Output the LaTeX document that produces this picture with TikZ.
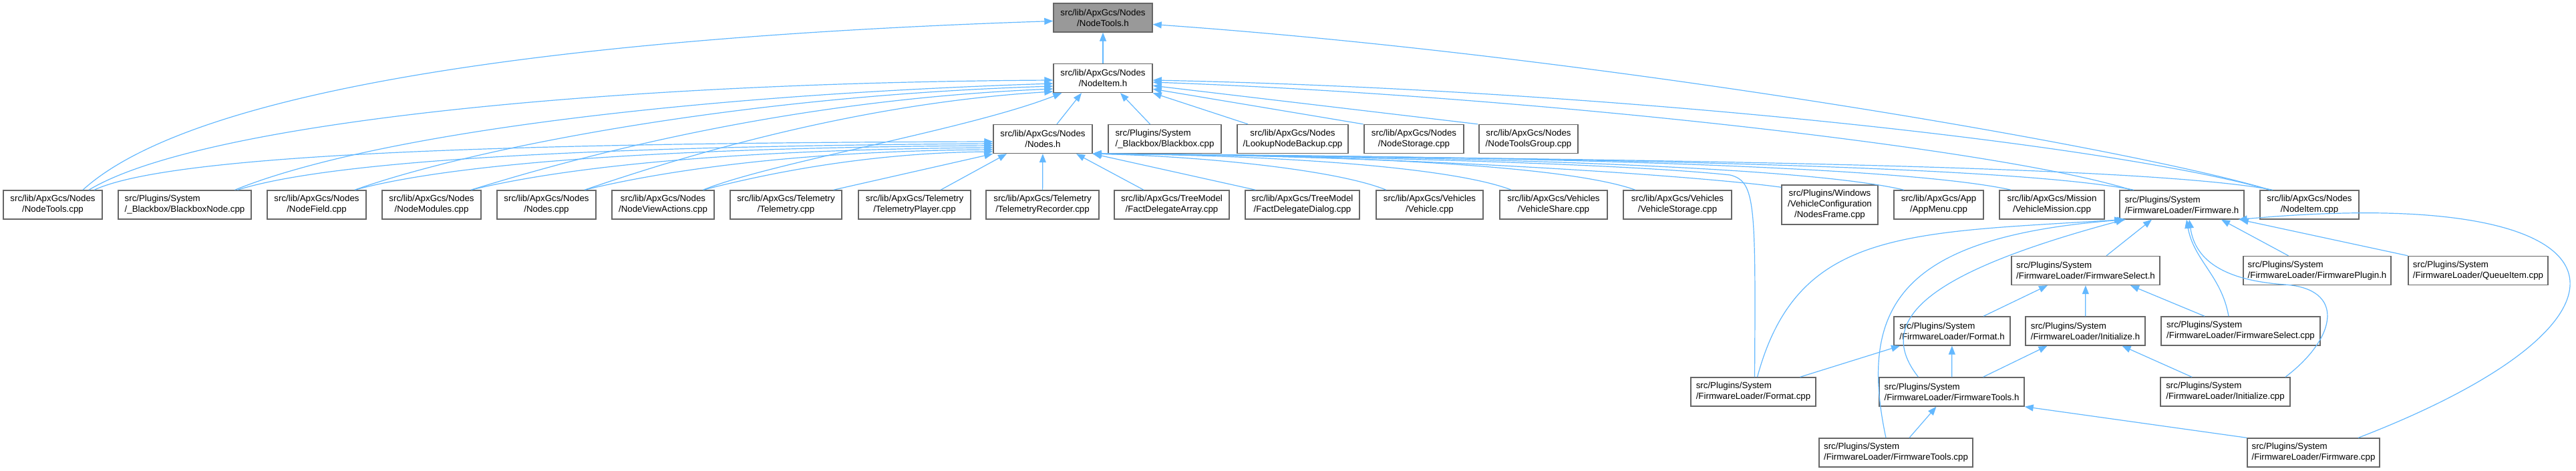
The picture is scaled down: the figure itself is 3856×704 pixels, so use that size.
\documentclass[tikz,border=0pt]{standalone}
\usepackage{fontspec}
\setmainfont{Liberation Sans}
\usetikzlibrary{arrows.meta}

\definecolor{edgeblue}{HTML}{63B8FF}
\definecolor{boxline}{HTML}{666666}
\definecolor{hilite}{HTML}{999999}

\tikzset{
  file/.style={draw=boxline, line width=1.4pt, fill=white, rectangle,
    minimum height=43pt, inner xsep=3pt, inner ysep=0pt, align=center,
    font=\fontsize{13.3}{16}\selectfont},
  lfile/.style={file, align=left},
  current/.style={file, fill=hilite},
  dep/.style={->, draw=edgeblue, line width=1.2pt}
}

\begin{document}
\begin{tikzpicture}[x=1pt, y=1pt, >={Triangle[length=13pt,width=10pt]}]
    \useasboundingbox (0,0) rectangle (3856,704);

    % Header and the one that includes it
    \node[current, minimum width=148pt] (nth) at (1651,677.5) {src/lib/ApxGcs/Nodes\\/NodeTools.h};
    \node[file, minimum width=148pt] (ni) at (1651,587) {src/lib/ApxGcs/Nodes\\/NodeItem.h};

    % Second level
    \node[file, minimum width=148pt] (nh) at (1561,496) {src/lib/ApxGcs/Nodes\\/Nodes.h};
    \node[lfile, minimum width=169pt] (bbcpp) at (1743.5,496) {src/Plugins/System\\/\_Blackbox/Blackbox.cpp};
    \node[file, minimum width=166pt] (lnb) at (1935,496) {src/lib/ApxGcs/Nodes\\/LookupNodeBackup.cpp};
    \node[file, minimum width=149pt] (nstor) at (2116.5,496) {src/lib/ApxGcs/Nodes\\/NodeStorage.cpp};
    \node[file, minimum width=148pt] (ntg) at (2288,496) {src/lib/ApxGcs/Nodes\\/NodeToolsGroup.cpp};

    % Sources that use the nodes
    \node[file, minimum width=148pt] (ntcpp) at (79,397.5) {src/lib/ApxGcs/Nodes\\/NodeTools.cpp};
    \node[lfile, minimum width=199pt] (bbn) at (276.5,397.5) {src/Plugins/System\\/\_Blackbox/BlackboxNode.cpp};
    \node[file, minimum width=148pt] (nf) at (474,397.5) {src/lib/ApxGcs/Nodes\\/NodeField.cpp};
    \node[file, minimum width=148pt] (nm) at (646,397.5) {src/lib/ApxGcs/Nodes\\/NodeModules.cpp};
    \node[file, minimum width=148pt] (nscpp) at (818,397.5) {src/lib/ApxGcs/Nodes\\/Nodes.cpp};
    \node[file, minimum width=153pt] (nva) at (992.5,397.5) {src/lib/ApxGcs/Nodes\\/NodeViewActions.cpp};
    \node[file, minimum width=167pt] (tel) at (1176.5,397.5) {src/lib/ApxGcs/Telemetry\\/Telemetry.cpp};
    \node[file, minimum width=168pt] (tp) at (1369,397.5) {src/lib/ApxGcs/Telemetry\\/TelemetryPlayer.cpp};
    \node[file, minimum width=169pt] (tr) at (1560.5,397.5) {src/lib/ApxGcs/Telemetry\\/TelemetryRecorder.cpp};
    \node[file, minimum width=172pt] (fda) at (1754,397.5) {src/lib/ApxGcs/TreeModel\\/FactDelegateArray.cpp};
    \node[file, minimum width=171pt] (fdd) at (1949.5,397.5) {src/lib/ApxGcs/TreeModel\\/FactDelegateDialog.cpp};
    \node[file, minimum width=160pt] (veh) at (2140,397.5) {src/lib/ApxGcs/Vehicles\\/Vehicle.cpp};
    \node[file, minimum width=161pt] (vs) at (2325.5,397.5) {src/lib/ApxGcs/Vehicles\\/VehicleShare.cpp};
    \node[file, minimum width=162pt] (vst) at (2511,397.5) {src/lib/ApxGcs/Vehicles\\/VehicleStorage.cpp};
    \node[file, minimum width=144pt, minimum height=59pt] (nfr) at (2739,397.5) {src/Plugins/Windows\\/VehicleConfiguration\\/NodesFrame.cpp};
    \node[file, minimum width=134pt] (am) at (2902,397.5) {src/lib/ApxGcs/App\\/AppMenu.cpp};
    \node[file, minimum width=157pt] (vm) at (3071.5,397.5) {src/lib/ApxGcs/Mission\\/VehicleMission.cpp};
    \node[lfile, minimum width=186pt] (fwh) at (3266,397.5) {src/Plugins/System\\/FirmwareLoader/Firmware.h};
    \node[file, minimum width=148pt] (nicpp) at (3457,397.5) {src/lib/ApxGcs/Nodes\\/NodeItem.cpp};

    % Firmware loader
    \node[lfile, minimum width=222pt] (fsh) at (3122,299) {src/Plugins/System\\/FirmwareLoader/FirmwareSelect.h};
    \node[lfile, minimum width=221pt] (fph) at (3468.5,299) {src/Plugins/System\\/FirmwareLoader/FirmwarePlugin.h};
    \node[lfile, minimum width=209pt] (qi) at (3709.5,299) {src/Plugins/System\\/FirmwareLoader/QueueItem.cpp};
    \node[lfile, minimum width=174pt] (fmh) at (2922,208.5) {src/Plugins/System\\/FirmwareLoader/Format.h};
    \node[lfile, minimum width=179pt] (inh) at (3121.5,208.5) {src/Plugins/System\\/FirmwareLoader/Initialize.h};
    \node[lfile, minimum width=238pt] (fscpp) at (3354,208.5) {src/Plugins/System\\/FirmwareLoader/FirmwareSelect.cpp};
    \node[lfile, minimum width=187pt] (fmcpp) at (2624.5,117.5) {src/Plugins/System\\/FirmwareLoader/Format.cpp};
    \node[lfile, minimum width=217pt] (fth) at (2921.5,117.5) {src/Plugins/System\\/FirmwareLoader/FirmwareTools.h};
    \node[lfile, minimum width=194pt] (incpp) at (3331,117.5) {src/Plugins/System\\/FirmwareLoader/Initialize.cpp};
    \node[lfile, minimum width=230pt] (ftcpp) at (2838,26.5) {src/Plugins/System\\/FirmwareLoader/FirmwareTools.cpp};
    \node[lfile, minimum width=198pt] (fwcpp) at (3463,26.5) {src/Plugins/System\\/FirmwareLoader/Firmware.cpp};

    % Into NodeTools.h
    \draw[dep] (ni) -- (nth);
    \draw[dep] ([xshift=45]ntcpp.north) .. controls (300,580) and (900,650) .. ([yshift=-5]nth.west);
    \draw[dep] ([xshift=-59]nicpp.north) .. controls (3200,480) and (2400,620) .. ([yshift=-10]nth.east);

    % Into NodeItem.h
    \draw[dep] ([xshift=21]nh.north) -- ([xshift=-32]ni.south);
    \draw[dep] ([xshift=-22]bbcpp.north) -- ([xshift=26]ni.south);
    \draw[dep] ([xshift=-67]lnb.north) -- (ni.south east);
    \draw[dep] ([xshift=-76]nstor.north) -- ([yshift=6]ni.south east);
    \draw[dep] ([xshift=-76]ntg.north) -- ([yshift=11]ni.south east);
    \draw[dep] ([xshift=54]ntcpp.north) .. controls (300,520) and (900,580) .. ([yshift=-3]ni.west);
    \draw[dep] ([xshift=75]bbn.north) .. controls (550,500) and (1000,560) .. ([yshift=-8]ni.west);
    \draw[dep] ([xshift=57]nf.north) .. controls (700,480) and (1100,560) .. ([yshift=-12]ni.west);
    \draw[dep] ([xshift=59]nm.north) .. controls (900,480) and (1200,555) .. ([yshift=-16]ni.west);
    \draw[dep] ([xshift=57]nscpp.north) .. controls (1050,480) and (1300,550) .. ([yshift=-20]ni.west);
    \draw[dep] ([xshift=60]nva.north) .. controls (1150,460) and (1450,510) .. ([xshift=13]ni.south west);
    \draw[dep] ([xshift=-76]fwh.north) .. controls (3000,480) and (2300,560) .. ([yshift=-6]ni.east);
    \draw[dep] ([xshift=-59]nicpp.north) .. controls (3150,490) and (2400,570) .. ([yshift=-3]ni.east);

    % Into Nodes.h from the left
    \draw[dep] ([xshift=62]ntcpp.north) .. controls (250,470) and (700,490) .. ([yshift=-4]nh.west);
    \draw[dep] ([xshift=79]bbn.north) .. controls (500,465) and (900,485) .. ([yshift=-7]nh.west);
    \draw[dep] ([xshift=57]nf.north) .. controls (680,460) and (1000,483) .. ([yshift=-10]nh.west);
    \draw[dep] ([xshift=59]nm.north) .. controls (850,455) and (1100,480) .. ([yshift=-13]nh.west);
    \draw[dep] ([xshift=57]nscpp.north) .. controls (1000,450) and (1200,478) .. ([yshift=-16]nh.west);
    \draw[dep] ([xshift=60]nva.north) .. controls (1150,445) and (1300,475) .. ([yshift=-19]nh.west);
    \draw[dep] ([xshift=71]tel.north) -- (nh.south west);
    \draw[dep] ([xshift=39]tp.north) -- ([xshift=-54]nh.south);
    \draw[dep] (tr) -- (nh);

    % Into Nodes.h from the right
    \draw[dep] ([xshift=-42]fda.north) -- ([xshift=50]nh.south);
    \draw[dep] ([xshift=-70]fdd.north) -- (nh.south east);
    \draw[dep] ([xshift=-65]veh.north) .. controls (2000,450) and (1800,470) .. (nh.south east);
    \draw[dep] ([xshift=-63]vs.north) .. controls (2170,455) and (1900,472) .. (nh.south east);
    \draw[dep] ([xshift=-63]vst.north) .. controls (2340,458) and (2000,472) .. (nh.south east);
    \draw[dep] ([yshift=-4]nfr.north west) .. controls (2550,440) and (2100,472) .. (nh.south east);
    \draw[dep] ([xshift=-52]am.north) .. controls (2700,455) and (2200,470) .. (nh.south east);
    \draw[dep] ([xshift=-61]vm.north) .. controls (2850,455) and (2300,470) .. (nh.south east);
    \draw[dep] ([xshift=-72]fwh.north) .. controls (3000,458) and (2300,468) .. (nh.south east);
    \draw[dep] ([xshift=-55]nicpp.north) .. controls (3200,458) and (2400,466) .. (nh.south east);
    \draw[dep] ([xshift=2]fmcpp.north) .. controls (2628,400) and (2628,432) .. (2590,442)
        .. controls (2400,462) and (1900,472) .. (nh.south east);

    % Into Firmware.h
    \draw[dep] ([xshift=31]fsh.north) -- ([xshift=-45]fwh.south);
    \draw[dep] ([xshift=-43]fph.north) -- ([xshift=59]fwh.south);
    \draw[dep] (qi.north west) -- ([xshift=-7]fwh.south east);
    \draw[dep] ([xshift=-18]fscpp.north) to[out=100,in=-80] ([xshift=7]fwh.south);
    \draw[dep] ([xshift=90]incpp.north) .. controls (3500,200) and (3510,272) .. (3420,278)
        .. controls (3320,285) and (3285,320) .. ([xshift=11]fwh.south);
    \draw[dep] ([xshift=6]fmcpp.north) .. controls (2690,360) and (2850,355) .. ([xshift=-88]fwh.south);
    \draw[dep] ([xshift=-50]fth.north) .. controls (2800,230) and (2900,300) .. ([xshift=-86]fwh.south);
    \draw[dep] ([xshift=-15]ftcpp.north) .. controls (2780,250) and (2850,350) .. ([xshift=-84]fwh.south);
    \draw[dep] ([xshift=67]fwcpp.north) .. controls (4000,230) and (3950,430) .. ([xshift=-9]fwh.south east);

    % Into FirmwareSelect.h, Format.h, Initialize.h
    \draw[dep] ([xshift=47]fmh.north) -- ([xshift=-57]fsh.south);
    \draw[dep] (inh) -- (fsh);
    \draw[dep] ([xshift=-54]fscpp.north) -- ([xshift=67]fsh.south);
    \draw[dep] ([xshift=70]fmcpp.north) -- ([xshift=-78]fmh.south);
    \draw[dep] (fth) -- (fmh);
    \draw[dep] ([xshift=47]fth.north) -- ([xshift=-57]inh.south);
    \draw[dep] ([xshift=-50]incpp.north) -- ([xshift=55]inh.south);

    % Into FirmwareTools.h
    \draw[dep] ([xshift=20]ftcpp.north) -- ([xshift=-23]fth.south);
    \draw[dep] (fwcpp.north west) -- (fth.south east);
\end{tikzpicture}
\end{document}
